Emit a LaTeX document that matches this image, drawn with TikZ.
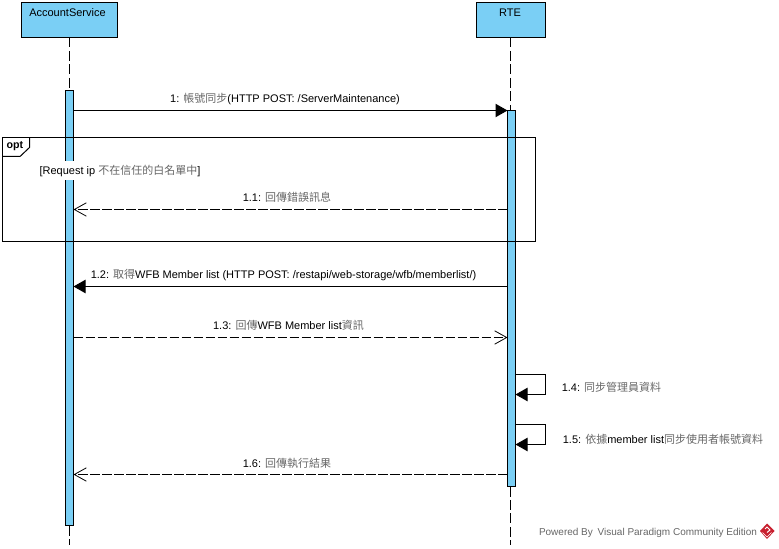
\documentclass[tikz,border=0pt]{standalone}
\usepackage{fontspec}
\setmainfont{Liberation Sans}
\newfontfamily\cjk{Noto Sans CJK TC}
\usetikzlibrary{arrows.meta,calc}
\newcommand{\CJ}[1]{{\cjk\color{cjkgray}#1}}
\definecolor{actfill}{HTML}{7ACFF5}
\definecolor{cjkgray}{HTML}{666666}
\definecolor{wmgray}{HTML}{666666}
\definecolor{vpred}{HTML}{C8202F}
\tikzset{
  x=0.75pt,y=-0.75pt,
  every node/.style={font=\fontsize{8.25}{10}\selectfont,inner sep=0pt,outer sep=0pt},
  lifebox/.style={draw=black,fill=actfill,line width=0.75pt,anchor=north west},
  actbar/.style={draw=black,fill=actfill,line width=0.75pt,anchor=north west},
  lifeline/.style={draw=black,line width=0.75pt,dash pattern=on 7.5pt off 2.6pt},
  msg/.style={draw=black,line width=0.75pt,-{Triangle[length=9pt,width=10pt,fill=black]}},
  reply/.style={draw=black,line width=0.75pt,dash pattern=on 6.9pt off 2.1pt,-{Straight Barb[length=9pt,width=10pt,line width=0.6pt]}},
  frameline/.style={draw=black,line width=0.75pt},
  lbl/.style={anchor=center,text=black},
}
\begin{document}
\begin{tikzpicture}
\useasboundingbox (0,0) rectangle (779,549);
% participants
\node[lifebox,minimum width=72pt,minimum height=26.25pt] (acc) at (21.5,2.5) {};
\node[lifebox,minimum width=51.75pt,minimum height=26.25pt] (rte) at (476.5,2.5) {};
\node[lbl] (acct) at (67.5,13) {AccountService};
\node[lbl] (rtet) at (510,13) {RTE};
% bottom ends and activations
\coordinate (accend) at (69.5,545);
\coordinate (rteend) at (510.5,545);
\node[actbar,minimum width=6pt,minimum height=326.25pt] (acta) at (65.5,90.5) {};
\node[actbar,minimum width=6pt,minimum height=282pt] (actb) at (507.5,110.5) {};
\draw[lifeline] (acc.south -| accend) -- (accend |- acta.north);
\draw[lifeline] (accend |- acta.south) -- (accend);
\draw[lifeline] (rteend |- rte.south) -- (rteend |- actb.north);
\draw[lifeline] (rteend |- actb.south) -- (rteend);
% opt frame
\node[frameline,anchor=north west,minimum width=399.75pt,minimum height=78pt] (frame) at (2.5,137.5) {};
\coordinate (tabr) at (29.5,137.5);
\coordinate (tabm) at (29.5,147.5);
\coordinate (tabb) at (20,156.5);
\coordinate (tabl) at (2.5,156.5);
\draw[frameline] (tabr) -- (tabm) -- (tabb) -- (tabl);
\node[lbl,font=\fontsize{8}{10}\selectfont\bfseries] (optt) at (15,146) {opt};
\node[lbl,fill=white,minimum height=14.25pt,inner xsep=1pt] (guard) at (120,171) {[Request ip \CJ{不在信任的白名單中}]};
% message levels
\coordinate (m1) at (0,110.5);
\coordinate (m11) at (0,209.5);
\coordinate (m12) at (0,286.5);
\coordinate (m13) at (0,337.5);
\coordinate (m14a) at (0,374.5);
\coordinate (m14b) at (0,394.5);
\coordinate (m15a) at (0,424.5);
\coordinate (m15b) at (0,444.5);
\coordinate (m16) at (0,474.5);
\coordinate (selfx) at (545.5,0);
% messages
\draw[msg] (acta.east |- m1) -- (actb.west |- m1);
\draw[reply] (actb.west |- m11) -- (acta.east |- m11);
\draw[msg] (actb.west |- m12) -- (acta.east |- m12);
\draw[reply] (acta.east |- m13) -- (actb.west |- m13);
\draw[msg] (actb.east |- m14a) -- (selfx |- m14a) -- (selfx |- m14b) -- (actb.east |- m14b);
\draw[msg] (actb.east |- m15a) -- (selfx |- m15a) -- (selfx |- m15b) -- (actb.east |- m15b);
\draw[reply] (actb.west |- m16) -- (acta.east |- m16);
% labels
\node[lbl] (l1) at (285,99) {1: \CJ{帳號同步}(HTTP POST: /ServerMaintenance)};
\node[lbl] (l11) at (287,197.5) {1.1: \CJ{回傳錯誤訊息}};
\node[lbl] (l12) at (283.5,275) {1.2: \CJ{取得}WFB Member list (HTTP POST: /restapi/web-storage/wfb/memberlist/)};
\node[lbl] (l13) at (288.5,325.5) {1.3: \CJ{回傳}WFB Member list\CJ{資訊}};
\node[lbl] (l14) at (611.5,387) {1.4: \CJ{同步管理員資料}};
\node[lbl] (l15) at (663,439) {1.5: \CJ{依據}member list\CJ{同步使用者帳號資料}};
\node[lbl] (l16) at (287,463) {1.6: \CJ{回傳執行結果}};
\node[lbl,text=wmgray,font=\fontsize{7.5}{9}\selectfont,anchor=west] (wm) at (539,533) {Powered By\hspace{1.5pt} Visual Paradigm Community Edition};
% logo
\fill[vpred] (767,523.5) -- (774.5,531) -- (767,539) -- (760,531) -- cycle;
\draw[white,line width=0.7pt] (765,529) -- (767,527) -- (770,530) -- (767,532.5);
\draw[white,line width=0.4pt] (762.5,532.5) -- (767,537) -- (771.5,532.5);
\end{tikzpicture}
\end{document}
